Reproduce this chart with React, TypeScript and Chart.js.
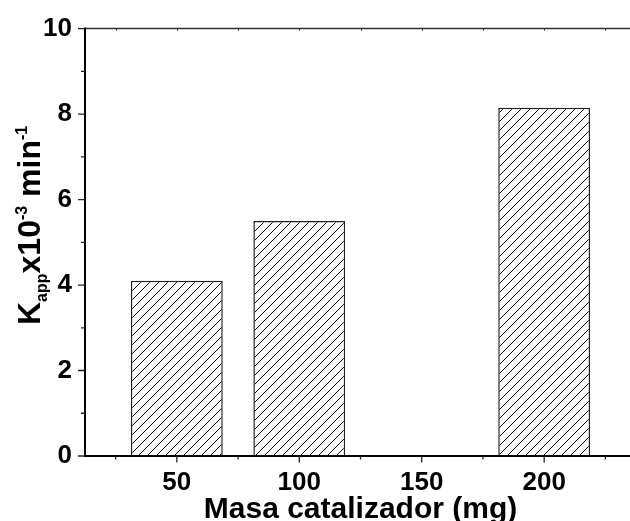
import { useEffect, useRef } from 'react';
import { Chart, registerables } from 'chart.js';

Chart.register(...registerables);

// ---- data ----
const masses = [50, 100, 150, 200];
const kapp: (number | null)[] = [4.1, 5.5, null, 8.15];
const xTickValues = [50, 100, 150, 200];
const xMinorValues = [25, 75, 125, 175, 225];
const yTickValues = [0, 2, 4, 6, 8, 10];
const yMinorValues = [1, 3, 5, 7, 9];
const xTitle = 'Masa catalizador (mg)';

const FONT = '"Liberation Sans", Arial, sans-serif';

function makeHatch(): CanvasPattern | string {
  const s = 9;
  const c = document.createElement('canvas');
  c.width = s;
  c.height = s;
  const g = c.getContext('2d');
  if (!g) return '#fff';
  g.fillStyle = '#fff';
  g.fillRect(0, 0, s, s);
  g.strokeStyle = '#000';
  g.lineWidth = 1;
  g.beginPath();
  g.moveTo(-1, s + 1);
  g.lineTo(s + 1, -1);
  g.moveTo(-2, 2);
  g.lineTo(2, -2);
  g.moveTo(s - 2, s + 2);
  g.lineTo(s + 2, s - 2);
  g.stroke();
  const p = g.createPattern(c, 'repeat');
  return p || '#fff';
}

const framePlugin = {
  id: 'frame',
  afterDraw(chart: any) {
    const { ctx, chartArea } = chart;
    const xs = chart.scales.x;
    const ys = chart.scales.y;
    const { left, right, top, bottom } = chartArea;
    ctx.save();
    // top border
    ctx.strokeStyle = '#333';
    ctx.lineWidth = 1.5;
    ctx.beginPath();
    ctx.moveTo(left, top);
    ctx.lineTo(right, top);
    ctx.stroke();
    // small inward ticks on top
    ctx.lineWidth = 1;
    ctx.beginPath();
    [...xTickValues, ...xMinorValues].forEach((v) => {
      const px = Math.round(xs.getPixelForValue(v)) + 0.5;
      ctx.moveTo(px, top);
      ctx.lineTo(px, top + 2);
    });
    ctx.stroke();
    // left & bottom axes
    ctx.strokeStyle = '#000';
    ctx.lineWidth = 2;
    ctx.beginPath();
    ctx.moveTo(left, top - 1);
    ctx.lineTo(left, bottom + 1);
    ctx.moveTo(left - 1, bottom);
    ctx.lineTo(right + 5, bottom);
    ctx.stroke();
    // y ticks
    ctx.lineWidth = 1.3;
    ctx.strokeStyle = '#222';
    ctx.beginPath();
    yTickValues.forEach((v) => {
      const py = ys.getPixelForValue(v);
      ctx.moveTo(left - 7, py);
      ctx.lineTo(left, py);
    });
    yMinorValues.forEach((v) => {
      const py = ys.getPixelForValue(v);
      ctx.moveTo(left - 4, py);
      ctx.lineTo(left, py);
    });
    // x ticks
    xTickValues.forEach((v) => {
      const px = xs.getPixelForValue(v);
      ctx.moveTo(px, bottom);
      ctx.lineTo(px, bottom + 6.5);
    });
    xMinorValues.forEach((v) => {
      const px = xs.getPixelForValue(v);
      ctx.moveTo(px, bottom);
      ctx.lineTo(px, bottom + 3.5);
    });
    ctx.stroke();

    // x title
    ctx.fillStyle = '#000';
    ctx.font = `bold 30px ${FONT}`;
    ctx.textAlign = 'center';
    ctx.textBaseline = 'alphabetic';
    ctx.fillText(xTitle, (left + right) / 2, 518);

    // y title (rotated, with sub/superscripts)
    ctx.translate(40, 325);
    ctx.rotate(-Math.PI / 2);
    ctx.textAlign = 'left';
    const parts: { t: string; size: number; dy: number }[] = [
      { t: 'K', size: 32, dy: 0 },
      { t: 'app', size: 16, dy: 7 },
      { t: 'x10', size: 32, dy: 0 },
      { t: '-3', size: 16, dy: -13.5 },
      { t: ' min', size: 32, dy: 0 },
      { t: '-1', size: 16, dy: -13.5 },
    ];
    let x = 0;
    parts.forEach((p) => {
      ctx.font = `bold ${p.size}px ${FONT}`;
      ctx.fillText(p.t, x, p.dy);
      x += ctx.measureText(p.t).width;
    });
    ctx.restore();
  },
};

export default function App() {
  const ref = useRef<HTMLCanvasElement | null>(null);

  useEffect(() => {
    if (!ref.current) return;
    const hatch = makeHatch();
    const points = masses
      .map((m, i) => ({ x: m, y: kapp[i] }))
      .filter((p) => p.y !== null);
    const chart = new Chart(ref.current, {
      type: 'bar',
      data: {
        datasets: [
          {
            data: points as any,
            backgroundColor: hatch as any,
            borderColor: '#222',
            borderWidth: 1.5,
            borderSkipped: 'start',
            barPercentage: 0.75,
            categoryPercentage: 1.0,
          },
        ],
      },
      options: {
        responsive: false,
        animation: false,
        devicePixelRatio: 1,
        layout: { padding: { left: 0, top: 24, right: 24, bottom: 0 } },
        plugins: {
          legend: { display: false },
          tooltip: { enabled: false },
        },
        scales: {
          x: {
            type: 'linear',
            min: 12.5,
            max: 237.5,
            offset: false,
            grid: { display: false, drawTicks: false },
            border: { display: false },
            afterBuildTicks: (s: any) => {
              s.ticks = xTickValues.map((v) => ({ value: v }));
            },
            afterFit: (s: any) => {
              s.height = 65;
            },
            ticks: {
              padding: 11,
              color: '#000',
              font: { family: FONT, size: 26, weight: 'bold', lineHeight: 1.2 },
              callback: (v: any) => String(v),
            },
          },
          y: {
            min: 0,
            max: 10,
            grid: { display: false, drawTicks: false },
            border: { display: false },
            afterBuildTicks: (s: any) => {
              s.ticks = yTickValues.map((v) => ({ value: v }));
            },
            afterFit: (s: any) => {
              s.width = 85;
            },
            ticks: {
              padding: 13,
              color: '#000',
              font: { family: FONT, size: 26, weight: 'bold' },
            },
          },
        },
      },
      plugins: [framePlugin],
    });
    return () => chart.destroy();
  }, []);

  return (
    <div
      style={{
        position: 'absolute',
        left: 0,
        top: 0,
        width: 630,
        height: 521,
        overflow: 'hidden',
        background: '#fff',
      }}
    >
      <canvas ref={ref} width={660} height={521} style={{ width: 660, height: 521, display: 'block' }} />
    </div>
  );
}
